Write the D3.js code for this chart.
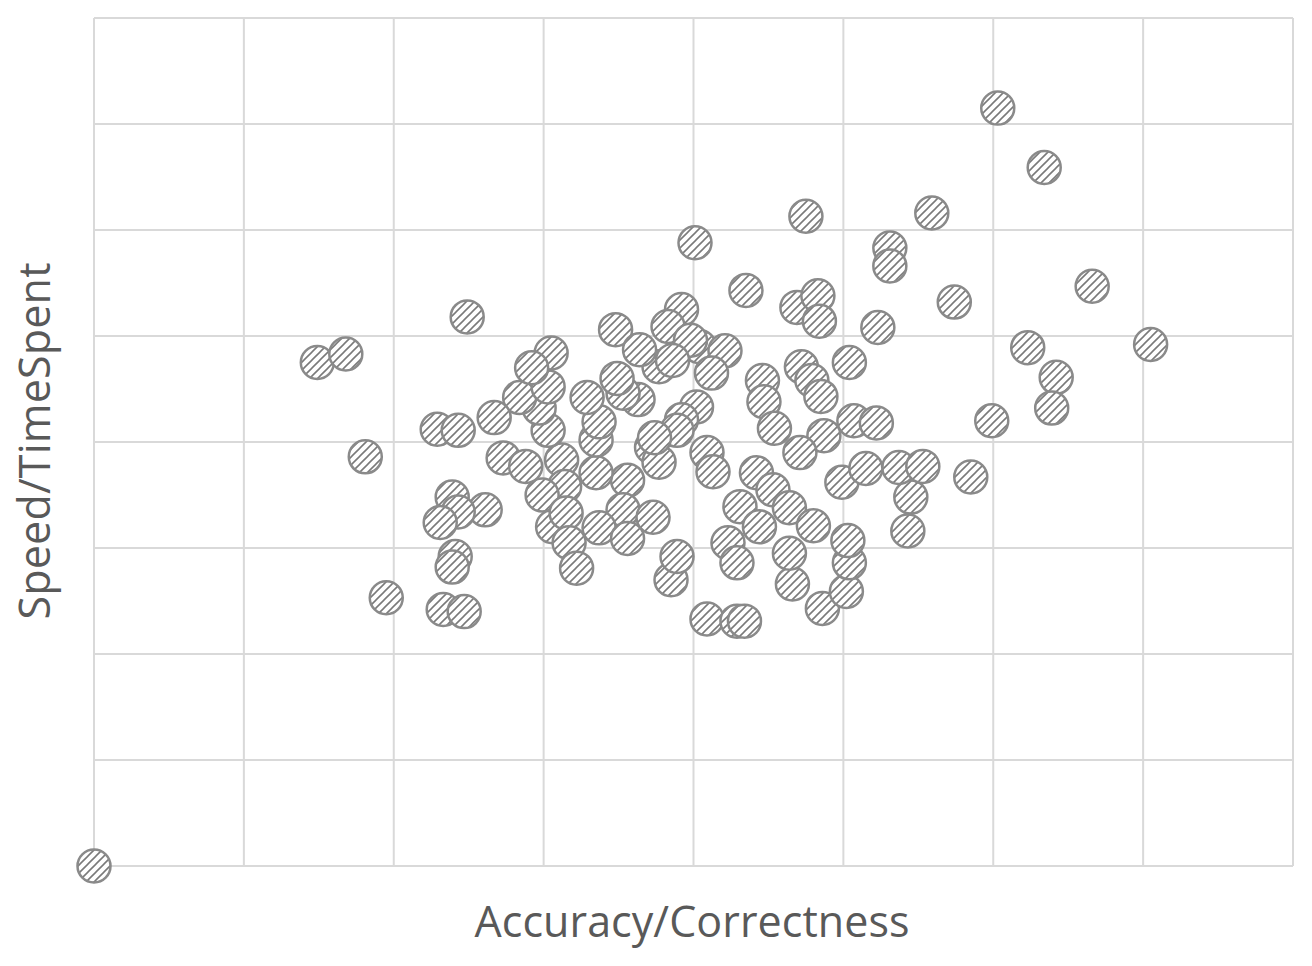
<!DOCTYPE html>
<html>
<head>
<meta charset="utf-8">
<script src="https://cdn.jsdelivr.net/npm/d3@7"></script>
<style>
  html, body { margin: 0; padding: 0; background: #fff; }
  svg { display: block; }
</style>
</head>
<body>
<svg id="chart" width="1312" height="966"></svg>
<script>
// Axis titles
const xTitle = "Accuracy/Correctness";
const yTitle = "Speed/TimeSpent";

// Grid ticks (no labels shown in the reference)
const xTicks = [0, 1, 2, 3, 4, 5, 6, 7, 8];
const yTicks = [0, 1, 2, 3, 4, 5, 6, 7, 8];

// Series values (grid units)
const accuracy = [
  0, 6.03, 6.34, 4.75, 5.59, 4.01, 5.31, 5.31, 6.66, 4.35,
  5.74, 2.49, 4.69, 4.83, 4.84, 3.92, 3.83, 5.23, 3.48, 1.49,
  1.68, 7.05, 6.23, 5.04, 6.42, 6.39, 5.99, 1.81, 1.95, 2.33,
  2.47, 4.09, 4.29, 4.34, 3.85, 3.89, 4.86, 5.02, 5.04, 5.03,
  4.66, 4.64, 5.85, 5.45, 5.37, 5.53, 5.43, 4.99, 5.15, 5.07,
  5.22, 4.87, 4.71, 4.72, 4.79, 4.85, 4.46, 4.47, 4.54, 4.42,
  4.53, 4.64, 4.80, 4.31, 4.44, 4.23, 4.29, 4.04, 4.21, 4.12,
  3.98, 4.02, 3.92, 3.89, 4.09, 4.13, 3.77, 3.64, 3.63, 3.53,
  3.49, 3.86, 3.72, 3.77, 3.74, 3.56, 3.53, 3.73, 3.37, 3.56,
  3.35, 3.35, 3.37, 3.29, 3.12, 3.14, 2.99, 3.06, 3.15, 3.17,
  3.22, 3.03, 2.97, 2.84, 3.03, 3.05, 2.92, 2.67, 2.73, 2.88,
  2.29, 2.43, 2.39, 2.61, 2.43, 2.31, 2.41, 2.39
];
const speed = [
  0, 7.15, 6.59, 6.13, 6.16, 5.88, 5.83, 5.66, 5.47, 5.43,
  5.32, 5.18, 5.27, 5.38, 5.14, 5.25, 5.09, 5.08, 5.06, 4.75,
  4.83, 4.92, 4.89, 4.75, 4.61, 4.32, 4.20, 3.86, 2.53, 2.42,
  2.40, 2.33, 2.31, 2.31, 2.70, 2.92, 2.43, 2.59, 2.86, 3.07,
  2.66, 2.95, 3.67, 3.48, 3.76, 3.77, 3.16, 3.62, 3.75, 4.20,
  4.18, 4.06, 3.90, 4.71, 4.58, 4.43, 4.58, 4.38, 4.13, 3.71,
  3.55, 3.38, 3.21, 3.39, 3.20, 3.05, 2.86, 4.90, 4.86, 4.65,
  4.96, 4.33, 4.21, 4.11, 3.90, 3.72, 4.71, 4.87, 4.40, 4.46,
  4.60, 4.77, 3.95, 3.81, 4.04, 3.64, 3.36, 3.29, 3.19, 3.09,
  3.71, 4.02, 4.19, 4.42, 3.83, 3.58, 3.50, 3.20, 3.33, 3.05,
  2.81, 4.11, 4.32, 4.42, 4.52, 4.84, 4.70, 4.23, 3.85, 3.77,
  4.12, 4.11, 3.48, 3.36, 3.34, 3.24, 2.92, 2.82
];

const points = accuracy.map((a, i) => ({ x: a, y: speed[i] }));

const svg = d3.select("#chart");
const plotLeft = 94, plotRight = 1293, plotTop = 18, plotBottom = 866;

const x = d3.scaleLinear().domain([0, 8]).range([plotLeft, plotRight]);
const y = d3.scaleLinear().domain([0, 8]).range([plotBottom, plotTop]);

// hatch pattern
const defs = svg.append("defs");
const pat = defs.append("pattern")
  .attr("id", "hatch")
  .attr("patternUnits", "userSpaceOnUse")
  .attr("width", 8).attr("height", 8);
pat.append("rect").attr("width", 8).attr("height", 8).attr("fill", "#ffffff");
pat.append("path")
  .attr("d", "M-2,2 L2,-2 M0,8 L8,0 M6,10 L10,6")
  .attr("stroke", "#7a7a7a")
  .attr("stroke-width", 1.6);

// grid
const grid = svg.append("g");
grid.selectAll("line.vx").data(xTicks).join("line")
  .attr("class", "vx")
  .attr("x1", d => x(d)).attr("x2", d => x(d))
  .attr("y1", plotTop).attr("y2", plotBottom)
  .attr("stroke", "#d9d9d9").attr("stroke-width", 2);
grid.selectAll("line.hy").data(yTicks).join("line")
  .attr("class", "hy")
  .attr("y1", d => y(d)).attr("y2", d => y(d))
  .attr("x1", plotLeft).attr("x2", plotRight)
  .attr("stroke", "#d9d9d9").attr("stroke-width", 2);

// points
svg.append("g").selectAll("circle").data(points).join("circle")
  .attr("cx", d => x(d.x))
  .attr("cy", d => y(d.y))
  .attr("r", 16.5)
  .attr("fill", "url(#hatch)")
  .attr("stroke", "#8a8a8a")
  .attr("stroke-width", 2.5);

// axis titles
svg.append("text")
  .attr("x", 692)
  .attr("y", 937)
  .attr("text-anchor", "middle")
  .attr("font-family", "'Open Sans', 'Noto Sans', sans-serif")
  .attr("font-size", 43)
  .attr("fill", "#595959")
  .attr("textLength", 435)
  .attr("lengthAdjust", "spacing")
  .text(xTitle);

svg.append("text")
  .attr("transform", `translate(50, 441) rotate(-90)`)
  .attr("text-anchor", "middle")
  .attr("font-family", "'Open Sans', 'Noto Sans', sans-serif")
  .attr("font-size", 43)
  .attr("fill", "#595959")
  .attr("textLength", 357)
  .attr("lengthAdjust", "spacing")
  .text(yTitle);
</script>
</body>
</html>
